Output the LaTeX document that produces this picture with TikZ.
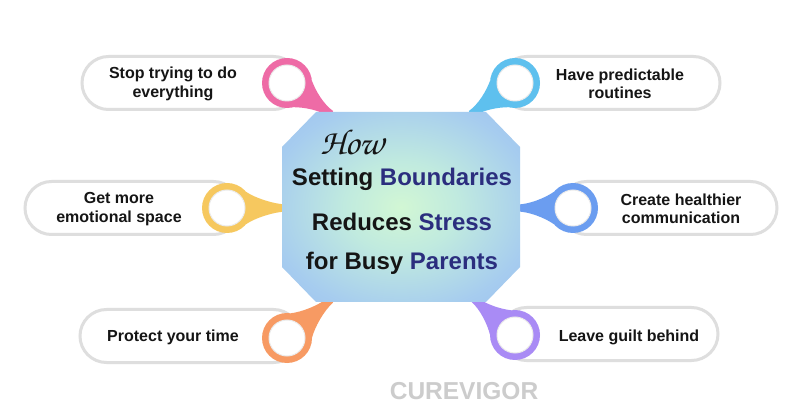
\documentclass[tikz,border=0pt]{standalone}
\usepackage[T1,TU]{fontenc}
\usepackage{fontspec}
\setmainfont{Liberation Sans}
\usetikzlibrary{shapes.misc}
\definecolor{pillgray}{HTML}{DEDEDE}
\definecolor{textblack}{HTML}{151515}
\definecolor{titleblue}{HTML}{2B2E7E}
\definecolor{cpink}{HTML}{EE6BA6}
\definecolor{clblue}{HTML}{5EC0EE}
\definecolor{cyellow}{HTML}{F6C85F}
\definecolor{cblue}{HTML}{6B9DF0}
\definecolor{corange}{HTML}{F79A63}
\definecolor{cpurple}{HTML}{A98BF5}
\definecolor{octin}{HTML}{D2F7D4}
\definecolor{octa}{HTML}{C0EADF}
\definecolor{octb}{HTML}{A6CCEF}
\definecolor{octout}{HTML}{95B8F3}
\definecolor{octcorner}{HTML}{8AAEF3}
\definecolor{wmgray}{HTML}{CCCCCC}
\pgfdeclareradialshading{octshade}{\pgfpoint{0bp}{0bp}}{color(0bp)=(octin); color(12bp)=(octa); color(28bp)=(octb); color(45bp)=(octout); color(72bp)=(octcorner)}
\newcommand\pinmark[6]{%
  \begin{scope}[shift={(#1,#2)}, rotate=#3]
    \fill[#5] (19.2,16.1) .. controls (28,10) and ({#4-12},3.5) .. (#4,3.5) -- (#4,-3.5) .. controls ({#4-12},-3.5) and (28,-10) .. (19.2,-16.1) -- cycle;
  \end{scope}
  \node[ringcirc, fill=#5] (#6) at (#1,#2) {};
  \node[innercirc] at (#6) {};
}
\begin{document}
\begin{tikzpicture}[x=1pt,y=-1pt,
  pillbox/.style={rounded rectangle, draw=pillgray, line width=3pt, fill=white, minimum height=53pt, inner sep=0pt},
  pilltext/.style={font=\bfseries\fontsize{16}{18.5}\selectfont, text=textblack, align=center},
  ringcirc/.style={circle, minimum size=50pt, inner sep=0pt},
  innercirc/.style={circle, minimum size=36pt, inner sep=0pt, fill=white, draw=black!8, line width=1pt},
  titletext/.style={font=\bfseries\fontsize{24}{28}\selectfont, text=textblack},
]
\useasboundingbox (0,0) rectangle (800,419);
\fill[white] (0,0) rectangle (800,419);

% pills
\node[pillbox, minimum width=218pt] (p1) at (191,83) {};
\node[pillbox, minimum width=220pt] (p2) at (610,83) {};
\node[pillbox, minimum width=215pt] (p3) at (132.5,208) {};
\node[pillbox, minimum width=217pt] (p4) at (668.5,208) {};
\node[pillbox, minimum width=220pt] (p5) at (190,336) {};
\node[pillbox, minimum width=218pt] (p6) at (609,334) {};

% pins
\pinmark{287}{83}{-35}{54}{cpink}{c1}
\pinmark{515}{83}{-145}{54}{clblue}{c2}
\pinmark{227}{208}{0}{60}{cyellow}{c3}
\pinmark{573}{208}{180}{56}{cblue}{c4}
\pinmark{287}{338}{41}{58}{corange}{c5}
\pinmark{515}{335}{139}{55}{cpurple}{c6}

% octagon
\path[shading=octshade] (316,112) -- (486,112) -- (520,147) -- (520,267) -- (486,302) -- (316,302) -- (282,267) -- (282,147) -- cycle;

% title
\node[font=\fontencoding{T1}\fontfamily{pzc}\fontseries{mb}\fontshape{it}\fontsize{36}{38}\selectfont, text=textblack] (how) at (352,142) {How};
\node[titletext] (t1) at (402,179) {Setting \textcolor{titleblue}{Boundaries}};
\node[titletext] (t2) at (402,222) {Reduces \textcolor{titleblue}{Stress}};
\node[titletext] (t3) at (402,263) {for Busy \textcolor{titleblue}{Parents}};

% pill texts
\node[pilltext] (l1) at (173,84) {Stop trying to do\\everything};
\node[pilltext] (l2) at (620,84) {Have predictable\\routines};
\node[pilltext] (l3) at (119,209) {Get more\\emotional space};
\node[pilltext] (l4) at (681,209) {Create healthier\\communication};
\node[pilltext] (l5) at (173,337) {Protect your time};
\node[pilltext] (l6) at (629,337) {Leave guilt behind};

% watermark
\node[font=\bfseries\fontsize{24.5}{26}\selectfont, text=wmgray] (wm) at (464,391) {CUREVIGOR};
\end{tikzpicture}
\end{document}
